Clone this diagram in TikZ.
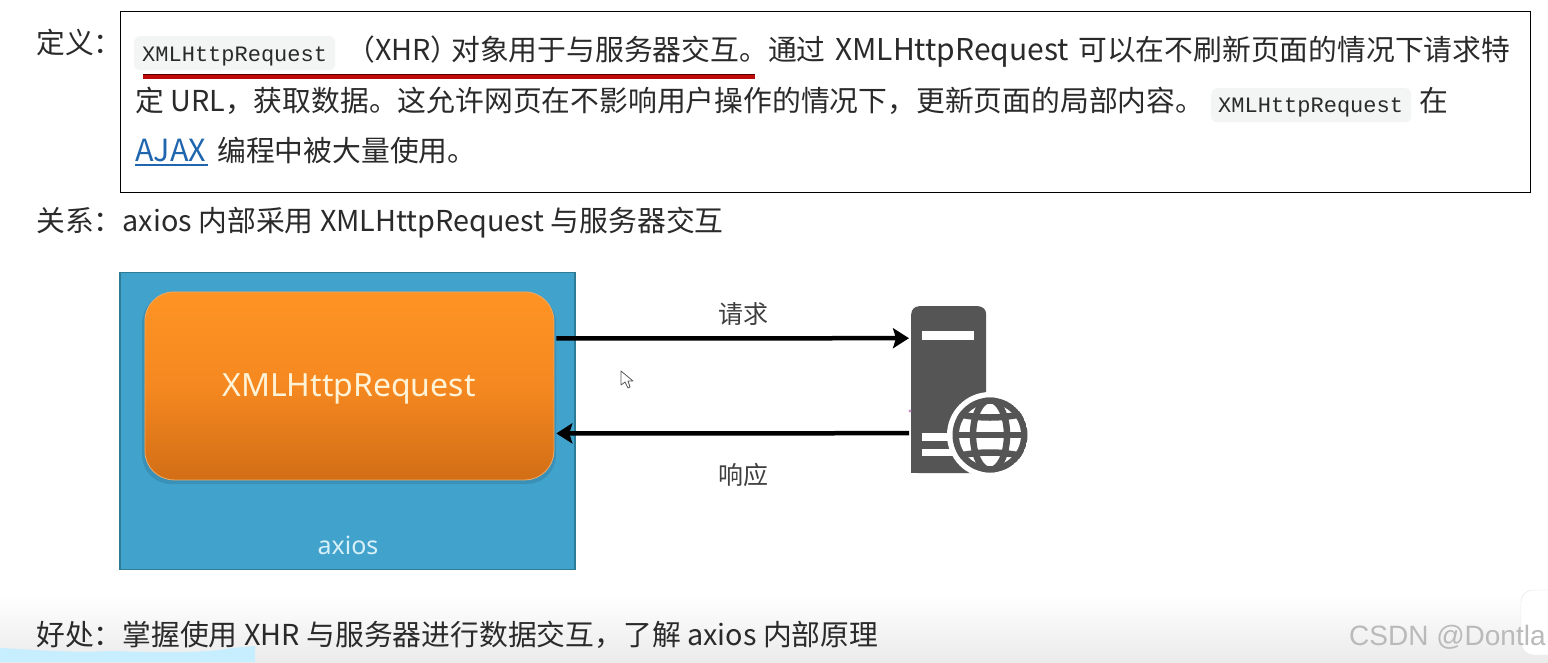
\documentclass[tikz,border=0pt]{standalone}
\usepackage{fontspec}
\setmainfont{Noto Sans CJK SC}
\newfontfamily\monof{Liberation Mono}
\newfontfamily\slidef{Noto Sans}
\newfontfamily\wmf{Liberation Sans}
\usetikzlibrary{arrows.meta}
\definecolor{ink}{HTML}{2A2A2A}
\definecolor{codebg}{HTML}{F3F4F4}
\definecolor{linkblue}{HTML}{1F66AE}
\definecolor{outerblue}{HTML}{41A2CC}
\definecolor{outeredge}{HTML}{2E7B96}
\definecolor{srv}{HTML}{555555}
\tikzset{
  txt/.style={anchor=base west,inner sep=0pt,text=ink,font=\fontsize{28.8}{28.8}\selectfont},
  code/.style={anchor=base west,inner sep=0pt,text=ink,font=\monof\fontsize{22}{22}\selectfont},
  codebox/.style={fill=codebg,draw=none,rounded corners=6pt,inner sep=0pt,anchor=north west},
  lbl/.style={inner sep=0pt,text=ink!90,font=\fontsize{25}{25}\selectfont},
  flow/.style={draw=black,line width=4.5pt,-{Stealth[length=16pt,width=20pt,inset=3pt]}},
}
\begin{document}
\begin{tikzpicture}[x=1pt,y=-1pt]
\useasboundingbox (0,0) rectangle (1548,662);
\fill[white] (0,0) rectangle (1548,662);
\shade[top color=white,bottom color=black!8] (0,595) rectangle (1548,662);
% light patch at the bottom edge
\fill[blue!30!cyan!22!white] (0,648) .. controls (40,650) and (70,653) .. (110,651) .. controls (150,652) and (200,654) .. (232,648) -- (255,646) -- (255,662) -- (0,662) -- cycle;
% definition box
\node[draw=black,line width=0.8pt,fill=white,minimum width=1410pt,minimum height=181pt,inner sep=0pt,anchor=north west] (defbox) at (120,11) {};
\node[txt] (deflabel) at (36,53) {定义：};
\node[codebox,minimum width=201pt,minimum height=34pt] (codeA) at (134,36) {};
\node[code] (codeAtxt) at (142,61) {XMLHttpRequest};
\node[txt] (line1a) at (346,60) {（XHR）};
\node[txt] (line1b) at (451,60) {对象用于与服务器交互。通过};
\node[txt,font=\fontsize{30}{30}\selectfont] (line1c) at (835,60) {XMLHttpRequest};
\node[txt] (line1d) at (1078,60) {可以在不刷新页面的情况下请求特};
\coordinate (ulA) at (143,76);
\coordinate (ulB) at (755,76);
\draw[line width=5pt,draw={rgb,255:red,190;green,10;blue,10}] (ulA) -- (ulB);
\draw[line width=1.2pt,draw={rgb,255:red,90;green,0;blue,0}] ([yshift=1.8pt]ulA) -- ([yshift=1.8pt]ulB);
\node[txt] (line2) at (135,111) {定 URL，获取数据。这允许网页在不影响用户操作的情况下，更新页面的局部内容。};
\node[codebox,minimum width=200pt,minimum height=34pt] (codeB) at (1211,88) {};
\node[code] (codeBtxt) at (1218,112) {XMLHttpRequest};
\node[txt] (line2b) at (1419,111) {在};
\node[txt,text=linkblue,font=\fontsize{30.5}{30.5}\selectfont] (ajax) at (135,161) {AJAX};
\draw[linkblue,line width=2.5pt] (135,165) -- (208,165);
\node[txt] (line3) at (217,161) {编程中被大量使用。};
\node[txt] (rel) at (36,231) {关系：axios 内部采用 XMLHttpRequest 与服务器交互};
% diagram
\node[draw=outeredge,line width=1.8pt,fill=outerblue,minimum width=455pt,minimum height=297pt,inner sep=0pt,anchor=north west] (outer) at (119,271.5) {};
\fill[black,opacity=.10,rounded corners=29pt] (142,294) rectangle (556,484);
\node[rounded corners=29pt,draw={rgb,255:red,240;green,170;blue,100},line width=.8pt,
  top color={rgb,255:red,255;green,148;blue,36},bottom color={rgb,255:red,210;green,110;blue,22},middle color={rgb,255:red,245;green,136;blue,32},
  minimum width=409pt,minimum height=188pt,inner sep=0pt,anchor=north west] (xhr) at (144.5,291.5) {};
\node[inner sep=0pt,text={rgb,255:red,255;green,243;blue,215},font=\slidef\fontsize{32}{32}\selectfont] (xhrtxt) at (349,389) {XMLHttpRequest};
\node[inner sep=0pt,text={rgb,255:red,215;green,240;blue,248},font=\slidef\fontsize{25}{25}\selectfont] (axiostxt) at (348,545) {axios};
% server icon
\node[fill=srv,rounded corners=8pt,minimum width=75pt,minimum height=167pt,inner sep=0pt,anchor=north west] (server) at (911,306) {};
\fill[srv] (911,440) rectangle (950,473);
\fill[white] (922,331) rectangle (974,340);
\fill[white] (922,433) rectangle (965,441);
\fill[white] (922,449) rectangle (965,456);
\coordinate (globe) at (990,435);
\fill[white] (globe) circle[radius=43];
\begin{scope}
\clip (globe) circle[radius=37.5];
\fill[srv] (globe) circle[radius=37.5];
\fill[white] (globe) circle[radius=31];
\draw[srv,line width=6.5pt] (globe) ellipse[x radius=17,y radius=35];
\draw[srv,line width=6.5pt] (953,435) -- (1027,435);
\draw[srv,line width=6.5pt] (955,413) .. controls (975,419) and (1005,419) .. (1025,413);
\draw[srv,line width=6.5pt] (955,457) .. controls (975,451) and (1005,451) .. (1025,457);
\end{scope}
\fill[violet!45] (910,411) circle[radius=1.6];
% connectors
\path[flow] ([yshift=47.5pt,xshift=2pt]xhr.east) -- ([yshift=51.5pt,xshift=-2pt]server.west);
\path[flow] ([yshift=-43.5pt,xshift=-2pt]server.west) -- ([yshift=-47.5pt,xshift=2pt]xhr.east);
\node[lbl] (req) at (743,314) {请求};
\node[lbl] (resp) at (743,475) {响应};
% mouse cursor
\draw[black!65,line width=.8pt,fill=white,line join=round] (621,371) -- (621,385) -- (625,382) -- (628,388) -- (630,387) -- (628,381) -- (633,381) -- cycle;
% benefits line
\node[txt] (good) at (36,645) {好处：掌握使用 XHR 与服务器进行数据交互，了解 axios 内部原理};
% corner widget and watermark
\fill[white,rounded corners=12pt] (1521,590) rectangle (1570,655);
\draw[black!12,rounded corners=12pt] (1570,590) -- (1521,590) -- (1521,655) -- (1570,655);
\node[anchor=base west,inner sep=0pt,text=black!27,font=\wmf\fontsize{28}{28}\selectfont] (wm) at (1349,645) {CSDN @Dontla};
\end{tikzpicture}
\end{document}
